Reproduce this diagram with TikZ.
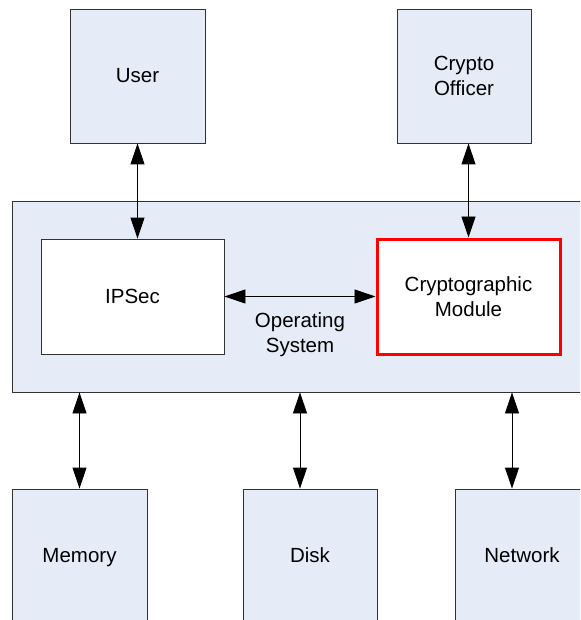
\documentclass[tikz,border=0pt]{standalone}
\usepackage{fontspec}
\setmainfont{Liberation Sans}
\usetikzlibrary{arrows.meta}
\definecolor{boxfill}{RGB}{230,236,247}
\definecolor{boxline}{RGB}{50,50,50}
\begin{document}
\begin{tikzpicture}[x=1pt,y=-1pt,
  box/.style={draw=boxline,line width=0.9pt,fill=boxfill,align=center,inner sep=0pt,
    font=\fontsize{20.5}{25}\selectfont},
  oneline/.style={text height=15pt,text depth=2pt},
  whitebox/.style={box,fill=white},
  redbox/.style={box,fill=white,draw=red,line width=3pt},
  lbl/.style={align=center,inner sep=0pt,font=\fontsize{20.5}{25}\selectfont},
  conn/.style={line width=0.9pt,{Triangle[length=21pt,width=14pt]}-{Triangle[length=21pt,width=14pt]}}]
\useasboundingbox (0,0) rectangle (580,620);
\clip (0,0) rectangle (580,620);
\node[box,oneline,minimum width=135pt,minimum height=134pt] (user) at (137.5,76) {User};
\node[box,minimum width=134pt,minimum height=134pt] (officer) at (464,76) {Crypto\\Officer};
\node[box,minimum width=590pt,minimum height=191pt] (os) at (307,296.5) {};
\node[whitebox,oneline,minimum width=183pt,minimum height=115pt] (ipsec) at (132.5,296.5) {IPSec};
\node[redbox,minimum width=183pt,minimum height=115pt] (cm) at (468.5,296.5) {Cryptographic\\Module};
\node[lbl] (oslbl) at (300,335) {Operating\\System};
\node[box,oneline,minimum width=135pt,minimum height=134pt] (mem) at (79.5,556) {Memory};
\node[box,oneline,minimum width=134pt,minimum height=134pt] (disk) at (310,556) {Disk};
\node[box,oneline,minimum width=134pt,minimum height=134pt] (net) at (522,556) {Network};
\draw[conn] (user.south) -- (user.south |- ipsec.north);
\draw[conn] (cm.north |- officer.south) -- (cm.north);
\draw[conn] (ipsec.east) -- (cm.west);
\coordinate (diskx) at (300,0);
\coordinate (netx) at (512,0);
\draw[conn] (mem.north |- os.south) -- (mem.north);
\draw[conn] (diskx |- os.south) -- (diskx |- disk.north);
\draw[conn] (netx |- os.south) -- (netx |- net.north);
\end{tikzpicture}
\end{document}
